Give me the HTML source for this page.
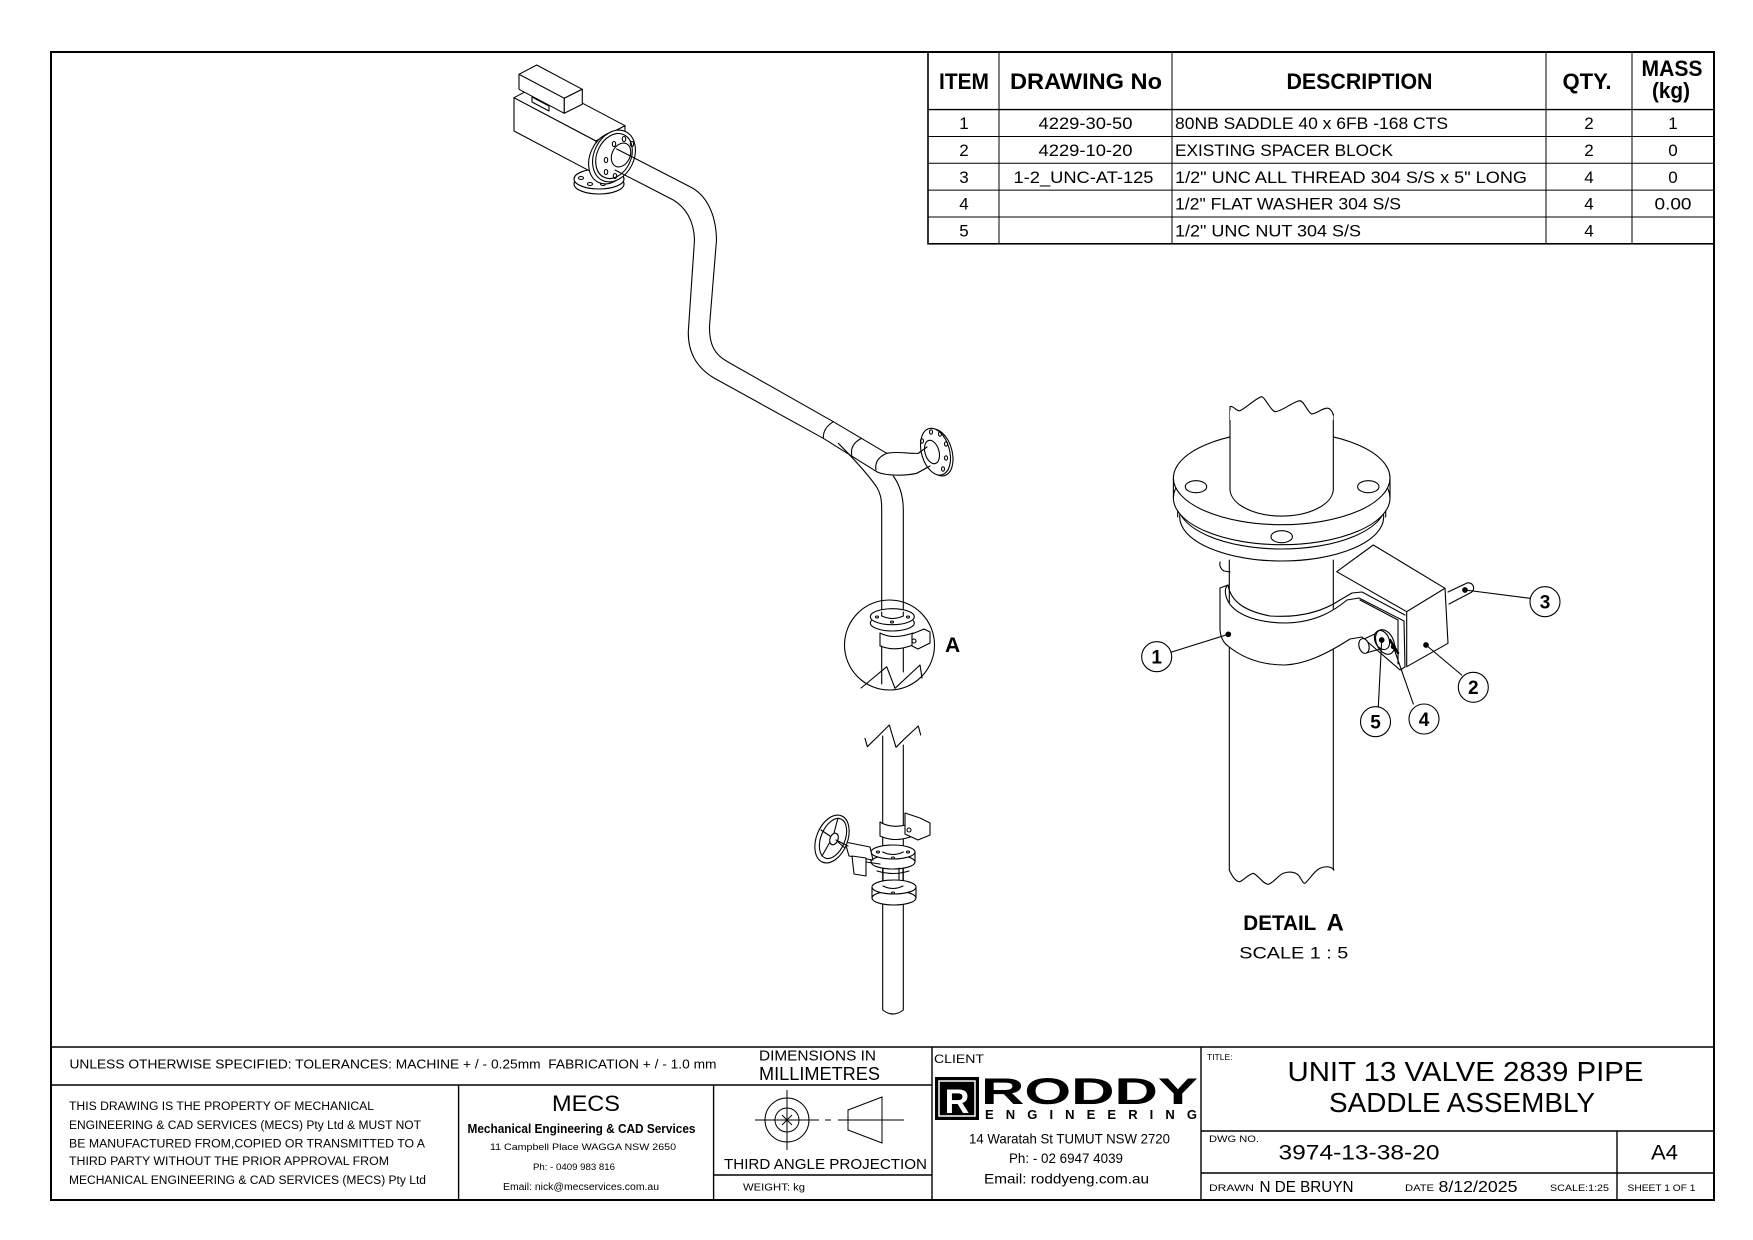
<!DOCTYPE html>
<html><head><meta charset="utf-8"><style>
html,body{margin:0;padding:0;background:#fff;}
svg{display:block;}
text{font-family:"Liberation Sans",Arial,sans-serif;fill:#000;}
.b{font-weight:bold;}
</style></head><body>
<svg width="1753" height="1240" viewBox="0 0 1753 1240" xmlns="http://www.w3.org/2000/svg">
<rect width="1753" height="1240" fill="#fff"/>
<!-- border -->
<rect x="51" y="52" width="1663" height="1148" fill="none" stroke="#000" stroke-width="2"/>

<!-- BOM table -->
<g stroke="#000" fill="none">
<rect x="928" y="52" width="786" height="191.8" stroke-width="1.6"/>
<line x1="928" y1="109.6" x2="1714" y2="109.6" stroke-width="1.4"/>
<line x1="928" y1="136.5" x2="1714" y2="136.5" stroke-width="1"/>
<line x1="928" y1="163.3" x2="1714" y2="163.3" stroke-width="1"/>
<line x1="928" y1="190.1" x2="1714" y2="190.1" stroke-width="1"/>
<line x1="928" y1="217" x2="1714" y2="217" stroke-width="1"/>
<line x1="999" y1="52" x2="999" y2="243.8" stroke-width="1"/>
<line x1="1172" y1="52" x2="1172" y2="243.8" stroke-width="1"/>
<line x1="1546" y1="52" x2="1546" y2="243.8" stroke-width="1"/>
<line x1="1632" y1="52" x2="1632" y2="243.8" stroke-width="1"/>
</g>
<g class="b" font-size="22" text-anchor="middle">
<text x="964" y="89" textLength="50" lengthAdjust="spacingAndGlyphs" class="b">ITEM</text>
<text x="1086" y="89" textLength="152" lengthAdjust="spacingAndGlyphs" class="b">DRAWING No</text>
<text x="1359.5" y="89" textLength="146" lengthAdjust="spacingAndGlyphs" class="b">DESCRIPTION</text>
<text x="1587" y="89" textLength="49" lengthAdjust="spacingAndGlyphs" class="b">QTY.</text>
<text x="1672" y="76" textLength="61" lengthAdjust="spacingAndGlyphs" class="b">MASS</text>
<text x="1671" y="98" textLength="38" lengthAdjust="spacingAndGlyphs" class="b">(kg)</text>
</g>
<g font-size="17" text-anchor="middle">
<text x="964" y="129.2">1</text>
<text x="964" y="156">2</text>
<text x="964" y="182.8">3</text>
<text x="964" y="209.7">4</text>
<text x="964" y="236.5">5</text>
<text x="1085.5" y="129.2" textLength="94" lengthAdjust="spacingAndGlyphs">4229-30-50</text>
<text x="1085.5" y="156" textLength="94" lengthAdjust="spacingAndGlyphs">4229-10-20</text>
<text x="1083.5" y="182.8" textLength="140" lengthAdjust="spacingAndGlyphs">1-2_UNC-AT-125</text>
<text x="1589" y="129.2">2</text>
<text x="1589" y="156">2</text>
<text x="1589" y="182.8">4</text>
<text x="1589" y="209.7">4</text>
<text x="1589" y="236.5">4</text>
<text x="1673" y="129.2">1</text>
<text x="1673" y="156">0</text>
<text x="1673" y="182.8">0</text>
<text x="1673" y="209.7" textLength="37" lengthAdjust="spacingAndGlyphs">0.00</text>
</g>
<g font-size="17">
<text x="1175" y="129.2" textLength="273" lengthAdjust="spacingAndGlyphs">80NB SADDLE 40 x 6FB -168 CTS</text>
<text x="1175" y="156" textLength="218" lengthAdjust="spacingAndGlyphs">EXISTING SPACER BLOCK</text>
<text x="1175" y="182.8" textLength="352" lengthAdjust="spacingAndGlyphs">1/2" UNC ALL THREAD 304 S/S x 5" LONG</text>
<text x="1175" y="209.7" textLength="226" lengthAdjust="spacingAndGlyphs">1/2" FLAT WASHER 304 S/S</text>
<text x="1175" y="236.5" textLength="186" lengthAdjust="spacingAndGlyphs">1/2" UNC NUT 304 S/S</text>
</g>

<!-- Title block lines -->
<g stroke="#000" fill="none" stroke-width="1.4">
<line x1="51" y1="1047" x2="1714" y2="1047"/>
<line x1="51" y1="1085" x2="932" y2="1085"/>
<line x1="458.6" y1="1085" x2="458.6" y2="1200"/>
<line x1="713.6" y1="1085" x2="713.6" y2="1200"/>
<line x1="932" y1="1047" x2="932" y2="1200"/>
<line x1="1201" y1="1047" x2="1201" y2="1200"/>
<line x1="713.6" y1="1175" x2="932" y2="1175"/>
<line x1="1201" y1="1131" x2="1714" y2="1131"/>
<line x1="1201" y1="1173" x2="1714" y2="1173"/>
<line x1="1617" y1="1131" x2="1617" y2="1200"/>
</g>
<text x="69.5" y="1068.5" font-size="12.5" textLength="647" lengthAdjust="spacingAndGlyphs" style="white-space:pre">UNLESS OTHERWISE SPECIFIED: TOLERANCES: MACHINE + / - 0.25mm  FABRICATION + / - 1.0 mm</text>
<text x="759" y="1060.5" font-size="15" textLength="117" lengthAdjust="spacingAndGlyphs">DIMENSIONS IN</text>
<text x="759" y="1080" font-size="18" textLength="121" lengthAdjust="spacingAndGlyphs">MILLIMETRES</text>
<g font-size="11.5">
<text x="69" y="1110" textLength="305" lengthAdjust="spacingAndGlyphs">THIS DRAWING IS THE PROPERTY OF MECHANICAL</text>
<text x="69" y="1129" textLength="352" lengthAdjust="spacingAndGlyphs">ENGINEERING &amp; CAD SERVICES (MECS) Pty Ltd &amp; MUST NOT</text>
<text x="69" y="1147.5" textLength="356" lengthAdjust="spacingAndGlyphs">BE MANUFACTURED FROM,COPIED OR TRANSMITTED TO A</text>
<text x="69" y="1165" textLength="320" lengthAdjust="spacingAndGlyphs">THIRD PARTY WITHOUT THE PRIOR APPROVAL FROM</text>
<text x="69" y="1184" textLength="357" lengthAdjust="spacingAndGlyphs">MECHANICAL ENGINEERING &amp; CAD SERVICES (MECS) Pty Ltd</text>
</g>
<text x="586" y="1111" font-size="22" text-anchor="middle" textLength="68" lengthAdjust="spacingAndGlyphs">MECS</text>
<text x="467.5" y="1133" font-size="12.5" class="b" textLength="228" lengthAdjust="spacingAndGlyphs">Mechanical Engineering &amp; CAD Services</text>
<text x="490" y="1150" font-size="9.5" textLength="186" lengthAdjust="spacingAndGlyphs">11 Campbell Place WAGGA NSW 2650</text>
<text x="533" y="1170" font-size="9.5" textLength="82" lengthAdjust="spacingAndGlyphs">Ph: - 0409 983 816</text>
<text x="503" y="1190" font-size="10" textLength="156" lengthAdjust="spacingAndGlyphs">Email: nick@mecservices.com.au</text>

<!-- third angle symbol -->
<g stroke="#000" fill="none" stroke-width="1">
<circle cx="787" cy="1120" r="22"/>
<circle cx="787" cy="1120" r="12"/>
<line x1="755" y1="1120" x2="819" y2="1120"/>
<line x1="787" y1="1090" x2="787" y2="1150"/>
<line x1="782" y1="1115" x2="792" y2="1125"/>
<line x1="792" y1="1115" x2="782" y2="1125"/>
<line x1="825" y1="1120" x2="831" y2="1120"/>
<line x1="838" y1="1120" x2="904" y2="1120"/>
<polygon points="848,1110 882,1097 882,1143 848,1130"/>
</g>
<text x="724" y="1169" font-size="15" textLength="203" lengthAdjust="spacingAndGlyphs">THIRD ANGLE PROJECTION</text>
<text x="743" y="1190.5" font-size="10.5" textLength="62" lengthAdjust="spacingAndGlyphs">WEIGHT: kg</text>

<!-- client -->
<text x="934" y="1063" font-size="12" textLength="50" lengthAdjust="spacingAndGlyphs">CLIENT</text>
<rect x="935" y="1077" width="44" height="43" fill="#000"/>
<rect x="939" y="1081" width="36" height="35" fill="none" stroke="#fff" stroke-width="1.5"/>
<text x="957" y="1113" font-size="34" class="b" text-anchor="middle" style="fill:#fff">R</text>
<text x="981" y="1104" font-size="37" class="b" textLength="217" lengthAdjust="spacingAndGlyphs" style="font-weight:900">RODDY</text>
<text x="985" y="1119" font-size="13" class="b" textLength="212" lengthAdjust="spacing">ENGINEERING</text>
<text x="969" y="1143.5" font-size="14" textLength="201" lengthAdjust="spacingAndGlyphs">14 Waratah St TUMUT NSW 2720</text>
<text x="1009" y="1163" font-size="14" textLength="114" lengthAdjust="spacingAndGlyphs">Ph: - 02 6947 4039</text>
<text x="984" y="1183.5" font-size="14" textLength="165" lengthAdjust="spacingAndGlyphs">Email: roddyeng.com.au</text>

<!-- title -->
<text x="1207" y="1060" font-size="8.5">TITLE:</text>
<text x="1287.5" y="1081" font-size="28" textLength="356" lengthAdjust="spacingAndGlyphs">UNIT 13 VALVE 2839 PIPE</text>
<text x="1329" y="1112" font-size="28" textLength="266" lengthAdjust="spacingAndGlyphs">SADDLE ASSEMBLY</text>
<text x="1209" y="1142" font-size="9" textLength="50" lengthAdjust="spacingAndGlyphs">DWG NO.</text>
<text x="1278.5" y="1159.5" font-size="21" textLength="161" lengthAdjust="spacingAndGlyphs">3974-13-38-20</text>
<text x="1651" y="1159.5" font-size="21" textLength="27" lengthAdjust="spacingAndGlyphs">A4</text>
<text x="1209" y="1191" font-size="9" textLength="45" lengthAdjust="spacingAndGlyphs">DRAWN</text>
<text x="1259.5" y="1192" font-size="15.5" textLength="94" lengthAdjust="spacingAndGlyphs">N DE BRUYN</text>
<text x="1405" y="1191" font-size="9" textLength="29" lengthAdjust="spacingAndGlyphs">DATE</text>
<text x="1438.5" y="1192" font-size="15.5" textLength="79" lengthAdjust="spacingAndGlyphs">8/12/2025</text>
<text x="1550" y="1191" font-size="9.5" textLength="59" lengthAdjust="spacingAndGlyphs">SCALE:1:25</text>
<text x="1627.5" y="1191" font-size="9.5" textLength="68" lengthAdjust="spacingAndGlyphs">SHEET 1 OF 1</text>

<!-- ================= MAIN ISOMETRIC ================= -->
<g stroke="#000" fill="none" stroke-width="1.1" stroke-linejoin="round" stroke-linecap="round">
<!-- bottom flange under actuator -->
<ellipse cx="599" cy="184" rx="25" ry="10" fill="#fff"/>
<ellipse cx="599" cy="179" rx="25" ry="10" fill="#fff"/>
<ellipse cx="581" cy="178" rx="2.5" ry="1.5"/>
<ellipse cx="590" cy="184" rx="2.5" ry="1.5"/>
<ellipse cx="603" cy="184" rx="2.5" ry="1.5"/>
<!-- big box -->
<polygon points="514,97.7 596,141 596,174.3 514,131" fill="#fff"/>
<polygon points="514,97.7 543,82.3 625,125.7 596,141" fill="#fff"/>
<polygon points="596,141 625,125.7 625,160 596,174.3" fill="#fff"/>
<!-- small box -->
<polygon points="519,74.3 536.7,65 582.3,89.3 564.3,98.3" fill="#fff"/>
<polygon points="519,74.3 564.3,98.3 564.3,113.3 519,89.3" fill="#fff"/>
<polygon points="564.3,98.3 582.3,89.3 582.3,104.3 564.3,113.3" fill="#fff"/>
<polygon points="532,97 549,106 549,111 532,102"/>
<!-- actuator flange -->
<ellipse cx="610" cy="158" rx="20" ry="27" transform="rotate(25 610 158)" fill="#fff"/>
<ellipse cx="614" cy="156" rx="20" ry="27" transform="rotate(25 614 156)" fill="#fff"/>
<ellipse cx="614" cy="156" rx="17" ry="23.5" transform="rotate(25 614 156)"/>
<ellipse cx="621" cy="155" rx="9" ry="12.5" transform="rotate(25 621 155)" fill="#fff"/>
<ellipse cx="614" cy="144" rx="1.7" ry="2.5"/>
<ellipse cx="624" cy="139" rx="1.7" ry="2.5"/>
<ellipse cx="632" cy="144" rx="1.7" ry="2.5"/>
<ellipse cx="606" cy="160" rx="1.7" ry="2.5"/>
<ellipse cx="606" cy="172" rx="1.7" ry="2.5"/>
<ellipse cx="615" cy="176" rx="1.7" ry="2.5"/>
<!-- pipe -->
<path d="M616.7,149 L690,186.7 C705,194 716,212 716.5,240 L709.5,326 C709,345 715,355 728,362 L833.3,421.7 L886.7,453.3"/>
<path d="M615,170 L673.3,200 C685,207 694,220 694.5,240 L688.3,331.7 C688,352 696,367 714,378 L823.3,438.3 L876.7,471.7"/>
<!-- bands -->
<path d="M833.3,421.7 Q823,428 823.3,438.3"/>
<path d="M861.7,438.3 Q850,444 851.7,455"/>
<path d="M886.7,453.3 Q874,459 876,470"/>
<!-- elbow -->
<path d="M886.7,453.3 C897,451 910,454 918.3,453.3 L927,447"/>
<path d="M876.7,471.7 C886,476 905,476 916.7,473.3 L930,466"/>
<!-- right flange -->
<ellipse cx="938" cy="452.5" rx="14" ry="24" transform="rotate(-16 938 452.5)" fill="#fff"/>
<ellipse cx="935.5" cy="451.7" rx="14" ry="24" transform="rotate(-16 935.5 451.7)" fill="#fff"/>
<ellipse cx="932" cy="452" rx="7" ry="12" transform="rotate(-16 932 452)" fill="#fff"/>
<path d="M918.3,453.3 L927,447 M916.7,473.3 L930,466"/>
<ellipse cx="931" cy="432" rx="1.5" ry="2.2"/>
<ellipse cx="940" cy="434" rx="1.5" ry="2.2"/>
<ellipse cx="946" cy="444" rx="1.5" ry="2.2"/>
<ellipse cx="946" cy="458" rx="1.5" ry="2.2"/>
<ellipse cx="943" cy="469" rx="1.5" ry="2.2"/>
<ellipse cx="922" cy="441" rx="1.5" ry="2.2"/>
<!-- branch down -->
<path d="M838.3,443.3 C850,455 866,472 876,486 C881,494 881.7,500 881.7,510 L881.7,612"/>
<path d="M893.3,476 C899,484 903.3,495 903.3,510 L903.3,612"/>
<!-- detail A circle contents -->
<circle cx="889.5" cy="645" r="45"/>
<ellipse cx="892.3" cy="623" rx="22" ry="8" fill="#fff"/>
<ellipse cx="892.3" cy="616.7" rx="22" ry="8" fill="#fff"/>
<path d="M881.7,612 L881.7,616 Q892.5,621 903.3,616 L903.3,612"/>
<ellipse cx="877" cy="617" rx="1.5" ry="1"/>
<ellipse cx="892" cy="622" rx="1.5" ry="1"/>
<ellipse cx="908" cy="617" rx="1.5" ry="1"/>
<path d="M880,633 Q893,640 913,633 L913,645 Q895,652 880,646 Z" fill="#fff"/>
<polygon points="912,634 924,629 930,632 930,643 918,649 912,646" fill="#fff"/>
<circle cx="914" cy="641" r="2"/>
<path d="M881.7,646 L881.7,684 M903.3,648 L903.3,672"/>
<polyline points="861,688 866,684 886.7,666.7 895,688.3 920,665 922,678"/>
<!-- lower section -->
<polyline points="865,738.3 867.3,746.7 878.3,736 889.3,725 896,747.3 905,738.3 918.3,726 920.7,735"/>
<path d="M882.7,736 L882.7,1010 Q893,1018 903.3,1010 L903.3,745"/>
<path d="M880,822 Q893,830 912,823 L913,836 Q895,843 880,836 Z" fill="#fff"/>
<polygon points="905,813 920,818 930,823 930,835 918,840 905,834" fill="#fff"/>
<circle cx="909" cy="830" r="2"/>
<ellipse cx="893" cy="862" rx="22" ry="7" fill="#fff"/>
<ellipse cx="893" cy="852" rx="22" ry="7" fill="#fff"/>
<path d="M871,852 L871,862 M915,852 L915,862"/>
<path d="M882.7,852 Q893,857 903.3,852"/>
<ellipse cx="878" cy="852" rx="1.5" ry="1"/>
<ellipse cx="908" cy="852" rx="1.5" ry="1"/>
<ellipse cx="893" cy="858" rx="1.5" ry="1"/>
<path d="M883,868 L883,884 M903,868 L903,884 M899,868 L899,884"/>
<path d="M877,871 Q893,876 909,871"/>
<ellipse cx="894" cy="898" rx="22" ry="7" fill="#fff"/>
<ellipse cx="894" cy="887" rx="22" ry="7" fill="#fff"/>
<path d="M872,887 L872,898 M916,887 L916,898"/>
<path d="M883,886 Q893,891 903,886"/>
<ellipse cx="893" cy="893" rx="1.5" ry="1"/>
<!-- handwheel & gearbox -->
<polygon points="845,842 870,847 873,860 849,856" fill="#fff"/>
<polygon points="852,856 866,858 866,876 854,874" fill="#fff"/>
<path d="M866,862 L880,864"/>
<ellipse cx="832" cy="839" rx="15.5" ry="25" transform="rotate(22 832 839)" fill="#fff"/>
<ellipse cx="833" cy="838.5" rx="12" ry="21" transform="rotate(22 833 838.5)"/>
<ellipse cx="834" cy="839" rx="4" ry="6" transform="rotate(22 834 839)"/>
<path d="M834,833 L838,818 M830,842 L822,856 M830,836 L821,830 M838,842 L845,848"/>
<path d="M836,840 L848,846"/>
</g>
<text x="945" y="652" font-size="21" class="b">A</text>

<!-- ================= DETAIL A ================= -->
<g stroke="#000" fill="none" stroke-width="1.1" stroke-linejoin="round" stroke-linecap="round">
<!-- lower pipe -->
<path d="M1229.3,560 L1229.3,870" />
<path d="M1333.3,560 L1333.3,870" />
<path d="M1229.3,870 C1232,876 1236,882 1240,881.7 C1245,879 1249,874 1253.3,873.3 C1258,875 1263,884 1268.3,884.3 C1273,883 1279,875 1283.3,873.3 C1289,871 1295,872 1298.3,875 C1301,878 1303,884 1305,883.3 C1309,880 1315,870 1320,868.3 C1325,866 1331,866 1334,870"/>
<!-- small bolt under flange -->
<path d="M1220,562 Q1219,568 1224,571 L1230,572"/>
<!-- block item 2 -->
<polygon points="1336.7,571.7 1373.3,545 1445,588.3 1406.7,611.7" fill="#fff"/>
<polygon points="1406.7,611.7 1445,588.3 1448,643.3 1406.7,666.7" fill="#fff"/>
<circle cx="1426" cy="645" r="2.3" fill="#000"/>
<!-- bolt item 3 -->
<path d="M1448,592 L1466,583.5 A5 5 0 0 1 1471,592.5 L1449,604" fill="#fff"/>
<circle cx="1465" cy="590" r="2.3" fill="#000"/>
<!-- saddle item 1 -->
<path d="M1220,588 L1220,630 Q1221,641 1228,646 C1245,660 1265,665 1285,665 C1305,664 1325,655 1350,639 L1362,637 L1400,670 L1405,667 L1404,621 L1359,598 L1347,600 C1335,610 1317,622 1287,623 C1252,623 1230,612 1226,596 Q1224,588 1228,585 Z" fill="#fff"/>
<path d="M1228,585 C1231,602 1245,611 1270,616 C1300,618 1322,612 1340,600 L1352,593 L1362,592 L1405,615"/>
<path d="M1360,600 L1398,620 L1398,664"/>
<!-- nut / washer -->
<path d="M1364,639 L1377,633 M1366,653 L1380,649" />
<ellipse cx="1364" cy="646" rx="5" ry="7.5" transform="rotate(-15 1364 646)" fill="#fff"/>
<ellipse cx="1382" cy="640" rx="7" ry="10" transform="rotate(-25 1382 640)" fill="#fff"/>
<ellipse cx="1385" cy="642" rx="8.5" ry="13" transform="rotate(-25 1385 642)"/>
<path d="M1390,640 L1398,653" stroke-width="2.5"/>
<circle cx="1381.7" cy="640" r="2.3" fill="#000"/>
<circle cx="1393.3" cy="646.7" r="2" fill="#000"/>
<!-- flange -->
<ellipse cx="1281.7" cy="517" rx="102" ry="44" fill="#fff"/>
<ellipse cx="1281.7" cy="504" rx="104" ry="45" fill="#fff"/>
<path d="M1177.7,504 L1177.7,517 M1385.7,504 L1385.7,517"/>
<ellipse cx="1281.7" cy="498" rx="108.3" ry="46.7" fill="#fff"/>
<path d="M1173.4,478 L1173.4,498 M1390,478 L1390,498"/>
<ellipse cx="1281.7" cy="478" rx="108.3" ry="46.7" fill="#fff"/>
<!-- upper pipe -->
<path d="M1230,410 L1230,490 A51.7 27.3 0 0 0 1333.3,490 L1333.3,414" fill="#fff"/>
<path d="M1230,406.7 L1235,406 L1240,410.7 L1251.7,405 L1261.7,396.7 L1266.7,403.3 L1275,411.7 L1286.7,408.3 L1300,400.7 L1305,405 L1311.7,414 L1320,411.7 L1328.3,408.3 L1333.3,415 L1333.3,420 L1230,420 Z" fill="#fff" stroke="none"/>
<path d="M1230,410 L1230,406.7 C1233,405 1237,412 1240,410.7 C1246,408 1256,398 1261.7,396.7 C1265,397 1270,410 1275,411.7 C1281,412 1294,401 1300,400.7 C1304,401 1308,413 1311.7,414 C1316,414 1324,407 1328.3,408.3 C1331,409 1333,413 1333.3,415"/>
<!-- bolt holes -->
<ellipse cx="1196" cy="486.7" rx="10.7" ry="6"/>
<ellipse cx="1368.3" cy="486.7" rx="10.7" ry="6"/>
<ellipse cx="1281.7" cy="536.7" rx="10.7" ry="6"/>
<!-- balloons -->
<line x1="1171.7" y1="652" x2="1228.3" y2="634.3"/>
<circle cx="1228.3" cy="634.3" r="2.3" fill="#000"/>
<line x1="1461.7" y1="675" x2="1426" y2="645"/>
<line x1="1530" y1="598.3" x2="1465" y2="590"/>
<line x1="1413.3" y1="704" x2="1393.3" y2="646.7"/>
<line x1="1378.3" y1="707" x2="1381.7" y2="640"/>
<circle cx="1156.7" cy="656.7" r="15" fill="#fff"/>
<circle cx="1473.3" cy="687.3" r="15" fill="#fff"/>
<circle cx="1545" cy="601.7" r="15" fill="#fff"/>
<circle cx="1424" cy="719" r="15" fill="#fff"/>
<circle cx="1375.5" cy="721.7" r="15" fill="#fff"/>
</g>
<g font-size="19" class="b" text-anchor="middle">
<text x="1156.7" y="663.5" class="b">1</text>
<text x="1473.3" y="694" class="b">2</text>
<text x="1545" y="608.5" class="b">3</text>
<text x="1424" y="725.8" class="b">4</text>
<text x="1375.5" y="728.5" class="b">5</text>
</g>
<text x="1243.3" y="930" font-size="21" class="b" textLength="73" lengthAdjust="spacingAndGlyphs">DETAIL</text>
<text x="1326.5" y="930.5" font-size="24" class="b">A</text>
<text x="1239.3" y="958.3" font-size="17" textLength="109" lengthAdjust="spacingAndGlyphs">SCALE 1 : 5</text>
</svg>
</body></html>
